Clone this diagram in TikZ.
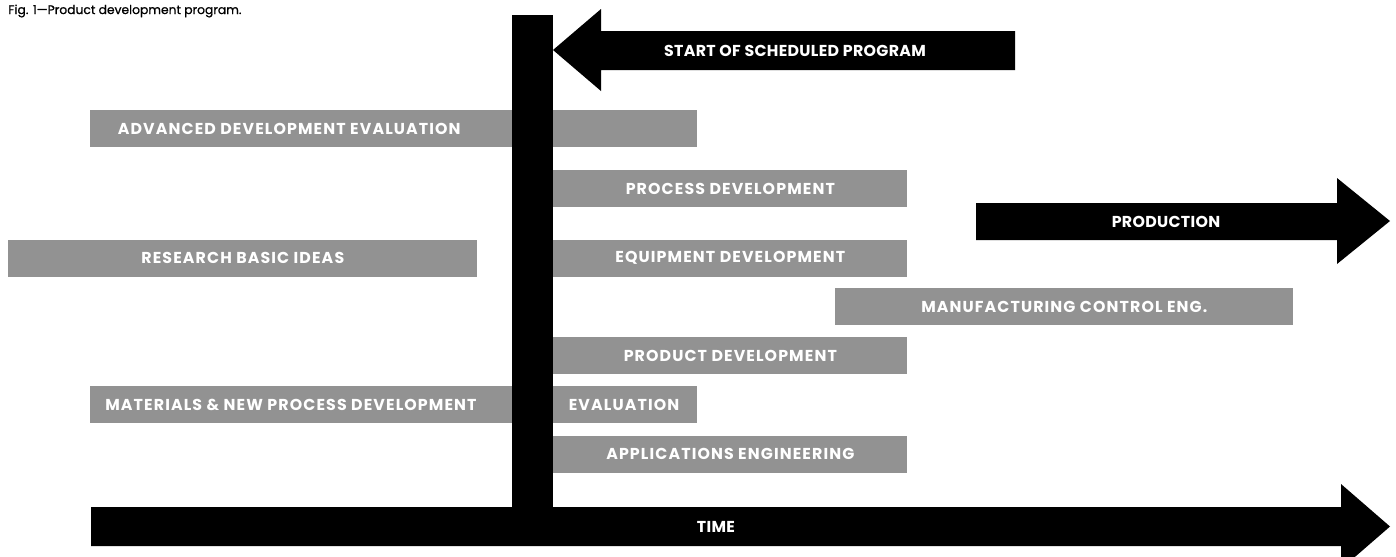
\documentclass[tikz,border=0pt]{standalone}
\usepackage{fontspec}
\setmainfont{Poppins}
\usepackage{tikz}

\definecolor{bargray}{RGB}{146,146,146}

\tikzset{
  stage/.style={fill=bargray, inner sep=0pt, minimum height=0.74cm, anchor=west,
    text=white, font=\bfseries\fontsize{9}{10}\selectfont\addfontfeature{LetterSpace=7}},
  stagetext/.style={text=white, inner sep=0pt, font=\bfseries\fontsize{9}{10}\selectfont\addfontfeature{LetterSpace=7}},
  arrowtext/.style={text=white, inner sep=0pt, font=\bfseries\fontsize{9}{10}\selectfont\addfontfeature{LetterSpace=2}},
}

\begin{document}
\begin{tikzpicture}[x=0.02cm, y=-0.02cm]
      \useasboundingbox (0,0) rectangle (1396,556);
      \clip (0,0) rectangle (1396,556);

      \node[anchor=west, inner sep=0pt, font=\fontsize{7}{8}\selectfont\addfontfeature{FakeBold=0.8}] (caption) at (8,11) {Fig. 1---Product development program.};

      % gray stages
      \node[stage, minimum width=12.14cm] (adveval) at (90,128.5) {};
      \node[stagetext, anchor=west] (advtext) at ([xshift=0.55cm]adveval.west) {ADVANCED DEVELOPMENT EVALUATION};

      \node[stage, minimum width=7.08cm] (procdev) at (553,188.5) {PROCESS DEVELOPMENT};

      \node[stage, minimum width=9.38cm] (research) at (8,258) {RESEARCH BASIC IDEAS};
      \node[stage, minimum width=7.08cm] (equipdev) at (553,258) {EQUIPMENT DEVELOPMENT};

      \node[stage, minimum width=9.16cm] (mfgctl) at (835,306.5) {MANUFACTURING CONTROL ENG.};

      \node[stage, minimum width=7.08cm] (proddev) at (553,355.5) {PRODUCT DEVELOPMENT};

      \node[stage, minimum width=12.14cm] (matdev) at (90,404.5) {};
      \node[stagetext, anchor=west] (mattext) at ([xshift=0.3cm]matdev.west) {MATERIALS \& NEW PROCESS DEVELOPMENT};
      \node[stagetext] (evaltext) at (624,404.5) {EVALUATION};

      \node[stage, minimum width=7.08cm] (appeng) at (553,454) {APPLICATIONS ENGINEERING};

      % start line
      \fill (512,15) rectangle (553,510);

      % black arrows
      \fill (1015,31) -- (601,31) -- (601,9) -- (553,50) -- (601,91) -- (601,70) -- (1015,70) -- cycle;
      \node[arrowtext] (start) at (795,50.5) {START OF SCHEDULED PROGRAM};

      \fill (976,203) -- (1337,203) -- (1337,178) -- (1390,221) -- (1337,264) -- (1337,240) -- (976,240) -- cycle;
      \node[arrowtext] (production) at (1166,221.5) {PRODUCTION};

      \fill (91,507) -- (1341,507) -- (1341,484) -- (1390,526.5) -- (1341,569) -- (1341,546) -- (91,546) -- cycle;
      \node[arrowtext] (time) at (716,526.5) {TIME};

    \end{tikzpicture}
\end{document}
